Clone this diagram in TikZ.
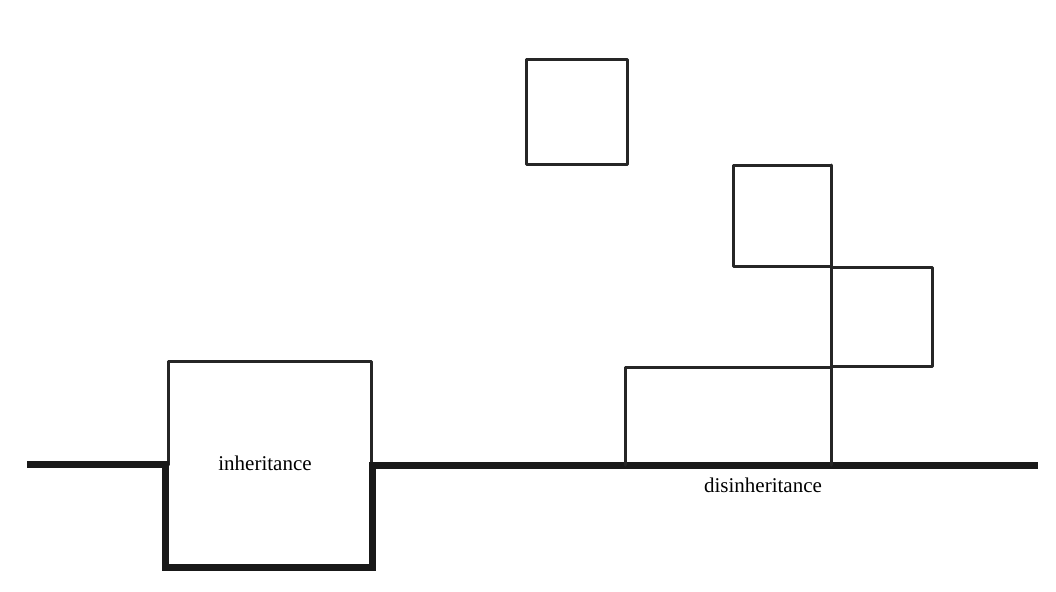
\documentclass[tikz,border=0pt]{standalone}
\usepackage{fontspec}
\setmainfont{Liberation Serif}
\begin{document}
\begin{tikzpicture}[x=1pt,y=-1pt,
  thinline/.style={draw=black!85,line width=3pt,line cap=round,line join=round},
  thickline/.style={draw=black!90,line width=7pt,line join=miter},
  lbl/.style={font=\fontsize{21}{24}\selectfont,inner sep=0pt}]
\useasboundingbox[fill=white] (0,0) rectangle (1056,591);
% coordinates
\coordinate (bl) at (27,464);
\coordinate (ul) at (165,464);
\coordinate (dl) at (165,567);
\coordinate (dr) at (372,567);
\coordinate (ur) at (372,465);
\coordinate (br) at (1038,465);
% inheritance box (thin upper part)
\draw[thinline] (168,465) -- (168,361) -- (371,361) -- (371,465);
% thick baseline with U
\draw[thickline] (bl) -- (ul) -- (dl) -- (dr) -- (ur) -- (br);
\node[lbl] (inh) at (265,463) {inheritance};
\node[lbl] (dis) at (763,485) {disinheritance};
% floating box
\draw[thinline] (526,60) rectangle (627,164);
% stacked boxes
\draw[thinline] (733,165) rectangle (831,266);
\draw[thinline] (831,267) rectangle (932,366);
\draw[thinline] (625,465) -- (625,367) -- (831,367);
\draw[thinline] (831,165) -- (831,465);
\end{tikzpicture}
\end{document}
